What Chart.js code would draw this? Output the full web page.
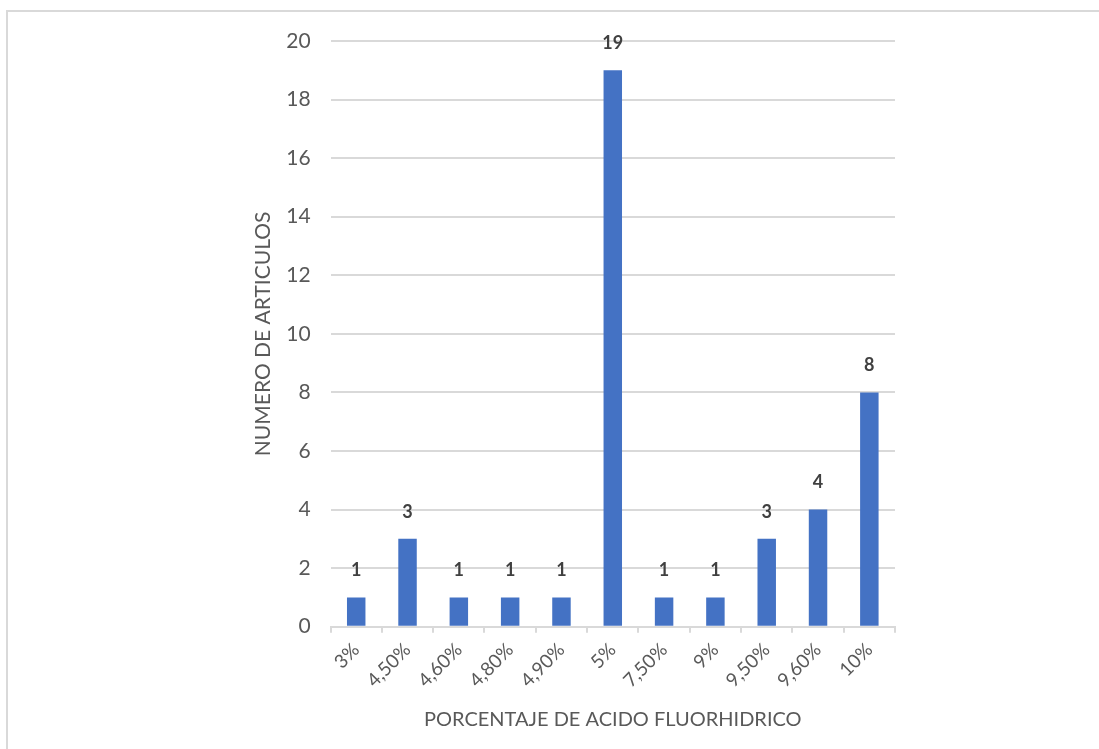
<!DOCTYPE html>
<html>
<head>
<meta charset="utf-8">
<script src="https://cdn.jsdelivr.net/npm/chart.js@4.4.1/dist/chart.umd.min.js"></script>
<style>
  html, body { margin: 0; padding: 0; background: #fff; overflow: hidden; }
  #frame { position: absolute; left: 6px; top: 10px; width: 1200px; height: 900px; border: 2px solid #d9d9d9; }
  #wrap { position: absolute; left: 0; top: 0; width: 1099px; height: 749px; }
</style>
</head>
<body>
<div id="frame"></div>
<div id="wrap"><canvas id="chart"></canvas></div>
<script>
const categories = ['3%', '4,50%', '4,60%', '4,80%', '4,90%', '5%', '7,50%', '9%', '9,50%', '9,60%', '10%'];
const articles = [1, 3, 1, 1, 1, 19, 1, 1, 3, 4, 8];
const yTicks = [0, 2, 4, 6, 8, 10, 12, 14, 16, 18, 20];

const fontFamily = 'Lato, "Open Sans", sans-serif';

// simple value labels above each bar
const barLabels = {
  id: 'barLabels',
  afterDatasetsDraw(chart) {
    const ctx = chart.ctx;
    const meta = chart.getDatasetMeta(0);
    ctx.save();
    ctx.font = 'bold 18px ' + fontFamily;
    ctx.fillStyle = '#404040';
    ctx.textAlign = 'center';
    ctx.textBaseline = 'middle';
    meta.data.forEach((bar, i) => {
      ctx.fillText(String(articles[i]), bar.x, bar.y - 27);
    });
    ctx.restore();
  }
};

new Chart(document.getElementById('chart'), {
  type: 'bar',
  data: {
    labels: categories,
    datasets: [{
      label: 'NUMERO DE ARTICULOS',
      data: articles,
      backgroundColor: '#4472C4',
      barPercentage: 0.36,
      categoryPercentage: 1.0
    }]
  },
  options: {
    responsive: true,
    maintainAspectRatio: false,
    animation: false,
    layout: {
      padding: { left: 251, right: 204, top: 41, bottom: 17 }
    },
    plugins: {
      legend: { display: false },
      tooltip: { enabled: false }
    },
    scales: {
      x: {
        grid: {
          display: true,
          drawOnChartArea: false,
          drawTicks: true,
          tickLength: 6,
          color: '#d9d9d9',
          lineWidth: 2
        },
        border: { display: true, color: '#d9d9d9', width: 2 },
        ticks: {
          color: '#595959',
          font: { family: fontFamily, size: 19 },
          minRotation: 45,
          maxRotation: 45,
          padding: 6
        },
        title: {
          display: true,
          text: 'PORCENTAJE DE ACIDO FLUORHIDRICO',
          color: '#595959',
          font: { family: fontFamily, size: 20 },
          padding: { top: 10, bottom: 0 }
        }
      },
      y: {
        min: 0,
        max: 20,
        afterBuildTicks(axis) {
          axis.ticks = yTicks.map(v => ({ value: v }));
        },
        grid: {
          color: '#d9d9d9',
          lineWidth: 2,
          drawTicks: false
        },
        border: { display: false },
        ticks: {
          color: '#595959',
          font: { family: fontFamily, size: 21 },
          padding: 20
        },
        title: {
          display: true,
          text: 'NUMERO DE ARTICULOS',
          color: '#595959',
          font: { family: fontFamily, size: 21 },
          padding: { top: 0, bottom: -10 }
        }
      }
    }
  },
  plugins: [barLabels]
});
</script>
</body>
</html>
